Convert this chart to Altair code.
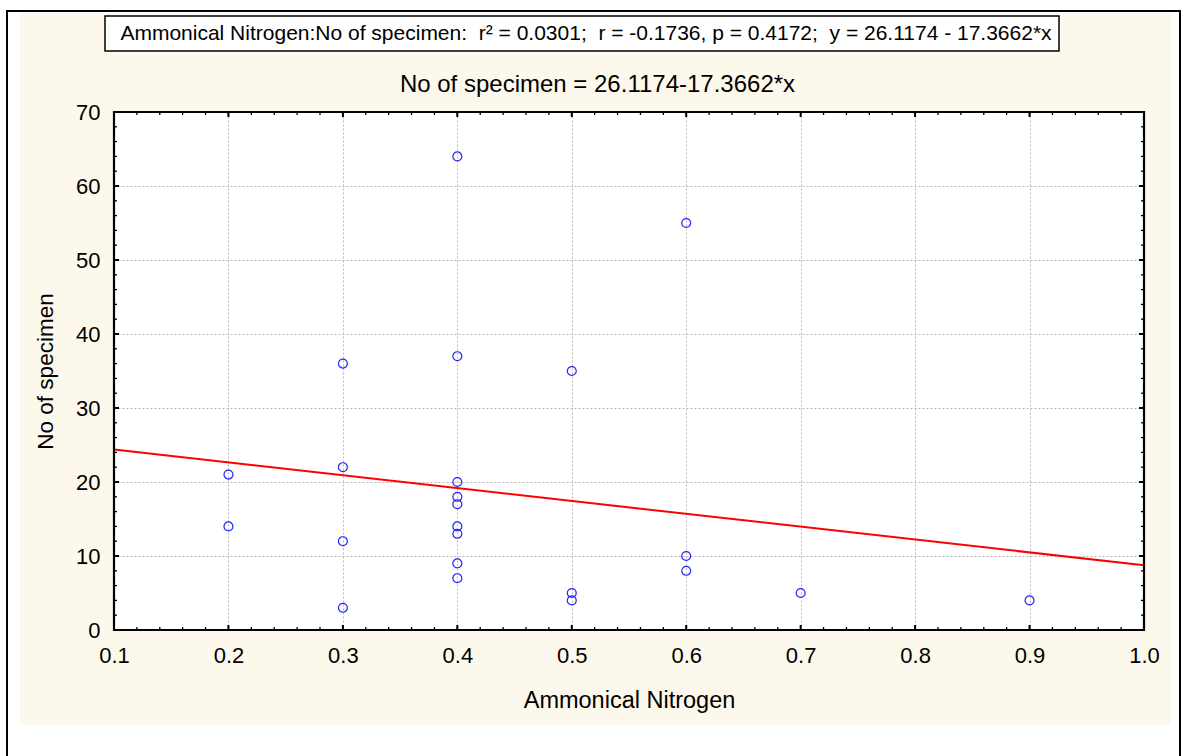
import altair as alt
import pandas as pd

# ---- data ----
ammonical_nitrogen = [0.2, 0.2,
                      0.3, 0.3, 0.3, 0.3,
                      0.4, 0.4, 0.4, 0.4, 0.4, 0.4, 0.4, 0.4, 0.4,
                      0.5, 0.5, 0.5,
                      0.6, 0.6, 0.6,
                      0.7,
                      0.9]
no_of_specimen = [21, 14,
                  36, 22, 12, 3,
                  64, 37, 20, 18, 17, 14, 13, 9, 7,
                  35, 5, 4,
                  55, 10, 8,
                  5,
                  4]
fit_x = [0.1, 1.0]
fit_y = [24.38, 8.75]
x_major = [0.1, 0.2, 0.3, 0.4, 0.5, 0.6, 0.7, 0.8, 0.9, 1.0]
y_major = [0, 10, 20, 30, 40, 50, 60, 70]
x_minor = [round(0.1 + 0.02 * i, 2) for i in range(46)]
y_minor = [2 * i for i in range(36)]

NB = "\u00a0"
title_box = ("Ammonical Nitrogen:No of specimen:" + NB + " r² = 0.0301;" + NB + " r = -0.1736, p = 0.4172;"
             + NB + " y = 26.1174 - 17.3662*x")
title_main = "No of specimen = 26.1174-17.3662*x"

W, H = 1030, 518
L, T = 114, 112
FONT = "Liberation Sans"
CREAM = "#fdf8ec"

xs = alt.Scale(domain=[0.1, 1.0], nice=False, zero=False)
ys = alt.Scale(domain=[0, 70], nice=False, zero=False)

one = pd.DataFrame({"k": [0]})


def rect(x, x2, y, y2, **kw):
    return alt.Chart(one).mark_rect(**kw).encode(
        x=alt.value(x), x2=alt.value(x2), y=alt.value(y), y2=alt.value(y2))


def hline(x, x2, y, **kw):
    return alt.Chart(one).mark_rule(**kw).encode(x=alt.value(x), x2=alt.value(x2), y=alt.value(y))


def vline(x, y, y2, **kw):
    return alt.Chart(one).mark_rule(**kw).encode(x=alt.value(x), y=alt.value(y), y2=alt.value(y2))


# scatter points carry the axes
pts = pd.DataFrame({"x": ammonical_nitrogen, "y": no_of_specimen})
points = alt.Chart(pts).mark_point(shape="circle", filled=False, color="#2323ff", size=80, strokeWidth=1.2,
                                   opacity=1).encode(
    x=alt.X("x:Q", scale=xs, axis=alt.Axis(
        values=x_major, format=".1f", title="Ammonical Nitrogen", grid=True, gridColor="#b8b8b8",
        gridDash=[2, 2], gridWidth=1, ticks=False, domain=False,
        labelPadding=15, titlePadding=22, labelFontSize=22, titleFontSize=23.5, labelFont=FONT, titleFont=FONT,
        titleFontWeight="normal", labelColor="black", titleColor="black", labelFlush=False, labelOverlap=False)),
    y=alt.Y("y:Q", scale=ys, axis=alt.Axis(
        values=y_major, format="d", title="No of specimen", grid=True, gridColor="#b8b8b8",
        gridDash=[2, 2], gridWidth=1, ticks=False, domain=False,
        labelPadding=14, titlePadding=18, labelFontSize=22, titleFontSize=22.5, labelFont=FONT, titleFont=FONT,
        titleFontWeight="normal", labelColor="black", titleColor="black", labelFlush=False, labelOverlap=False)),
)

# regression line
fit = alt.Chart(pd.DataFrame({"x": fit_x, "y": fit_y})).mark_line(color="#ff0000", strokeWidth=2).encode(
    x=alt.X("x:Q", scale=xs), y=alt.Y("y:Q", scale=ys))


# inward ticks on all four sides
def xticks(vals, length, width):
    d = pd.DataFrame({"x": vals})
    b = alt.Chart(d).mark_rule(color="black", strokeWidth=width)
    return [
        b.encode(x=alt.X("x:Q", scale=xs), y=alt.value(0), y2=alt.value(length)),
        b.encode(x=alt.X("x:Q", scale=xs), y=alt.value(H), y2=alt.value(H - length)),
    ]


def yticks(vals, length, width):
    d = pd.DataFrame({"y": vals})
    b = alt.Chart(d).mark_rule(color="black", strokeWidth=width)
    return [
        b.encode(y=alt.Y("y:Q", scale=ys), x=alt.value(0), x2=alt.value(length)),
        b.encode(y=alt.Y("y:Q", scale=ys), x=alt.value(W), x2=alt.value(W - length)),
    ]


ticks = xticks(x_minor, 3, 1.3) + xticks(x_major, 5, 2) + yticks(y_minor, 3, 1.3) + yticks(y_major, 5, 2)

frame = rect(0, W, 0, H, fill="white", fillOpacity=0, stroke="black", strokeWidth=2.2)

# white page margins around the cream panel, and the outer black border
m_left = rect(0 - L, 20 - L, 0 - T, 756 - T, fill="white")
m_right = rect(1171 - L, 1186 - L, 0 - T, 756 - T, fill="white")
m_top = rect(0 - L, 1186 - L, 0 - T, 13 - T, fill="white")
m_bottom = rect(0 - L, 1186 - L, 725 - T, 756 - T, fill="white")
b_top = hline(6 - L, 1181 - L, 11 - T, color="black", strokeWidth=2)
b_left = vline(7 - L, 10 - T, 760 - T, color="black", strokeWidth=2)
b_right = vline(1180 - L, 10 - T, 760 - T, color="black", strokeWidth=2)

# boxed statistics line and the main title
tbox = rect(105 - L, 1059 - L, 16 - T, 51 - T, fill="white", stroke="black", strokeWidth=1.5)
ttext = alt.Chart(one).mark_text(font=FONT, fontSize=21, color="black", align="center", baseline="middle").encode(
    x=alt.value(586 - L), y=alt.value(34 - T), text=alt.value(title_box))
mtext = alt.Chart(one).mark_text(font=FONT, fontSize=24, color="black", align="center", baseline="alphabetic").encode(
    x=alt.value(597.5 - L), y=alt.value(92 - T), text=alt.value(title_main))

chart = alt.layer(
    points, fit, *ticks, frame, m_left, m_right, m_top, m_bottom, b_top, b_left, b_right, tbox, ttext, mtext
).properties(
    width=W, height=H,
    autosize=alt.AutoSizeParams(type="none"),
    padding={"left": L, "top": T, "right": 1186 - L - W, "bottom": 756 - T - H},
).configure(background=CREAM).configure_view(stroke=None, fill="white")

chart.save("out.html", embed_options={"renderer": "svg", "actions": False})
